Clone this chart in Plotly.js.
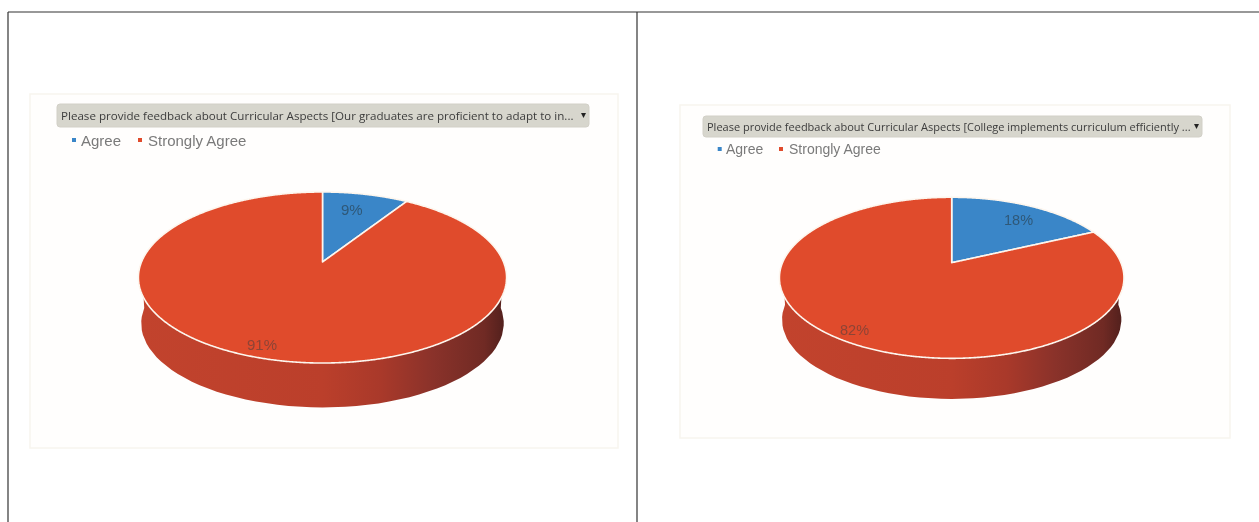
<!DOCTYPE html>
<html><head><meta charset="utf-8">
<script src="https://cdn.plot.ly/plotly-3.0.1.min.js"></script>
<style>html,body{margin:0;padding:0;background:#fff}#p{width:1259px;height:522px;filter:blur(0.45px)}</style>
</head><body><div id="p"></div>
<script>
const categories = ['Agree', 'Strongly Agree'];
const valuesLeft = [9, 91];
const valuesRight = [18, 82];
const labelLeft = 'Please provide feedback about Curricular Aspects [Our graduates are proficient to adapt to in...';
const labelRight = 'Please provide feedback about Curricular Aspects [College implements curriculum efficiently ...';
const colors = ['#3a86c8', '#e04b2c'];

// perspective of each tilted disc, in page pixels
const discs = [
  {apexX:322.5, apexY:262, A:181, a:82.7, b:0.1813, depth:44.5, cardBox:[30,94,618,448], drop:[57,104,589,127], legendY:140,
   legendX:[74,140], legendTextX:[78.5,145.5], pctPos:[[352,209],[262,344]], dropSize:11.6, legendSize:15, pctSize:15},
  {apexX:951.7, apexY:262.7, A:169.2, a:77.7, b:0.1876, depth:40.5, cardBox:[680,105,1230,438], drop:[703,116,1202,137], legendY:149,
   legendX:[719.7,781], legendTextX:[724,786.5], pctPos:[[1018,220],[854,330]], dropSize:11, legendSize:14, pctSize:14.5}
];
const drops = [labelLeft, labelRight];
const vals = [valuesLeft, valuesRight];

function project(d,u,v){const w=1+d.b*v;return [d.apexX+d.A*u/w, d.apexY-d.a*v/w];}

function wallTrace(d){
  const xs=[],ys=[];
  const top=[],low=[];
  for(let t=0;t<=180;t+=3){
    const phi=t*Math.PI/180;
    const p=project(d,Math.cos(phi),-Math.sin(phi));
    top.push(p);
    const cy=d.apexY+(d.a*d.b/(1-d.b*d.b));
    const s=0.985;
    low.push([d.apexX+(p[0]-d.apexX)*s, cy+(p[1]-cy)*s+d.depth+(1-s)*85]);
  }
  xs.push(top[0][0]); ys.push(top[0][1]);
  low.forEach(p=>{xs.push(p[0]);ys.push(p[1]);});
  for(let i=top.length-1;i>=0;i--){xs.push(top[i][0]);ys.push(top[i][1]);}
  return {type:'scatter',mode:'lines',x:xs,y:ys,xaxis:'x',yaxis:'y',fill:'toself',
    line:{width:0,color:'rgba(0,0,0,0)'},hoverinfo:'skip',showlegend:false,
    fillgradient:{type:'horizontal',colorscale:[[0,'#c2432d'],[0.5,'#bb3f2b'],[0.66,'#a9392a'],[0.8,'#8a322a'],[0.94,'#702a24'],[1,'#4f1f1c']]}};
}

const traces=[];
discs.forEach(d=>traces.push(wallTrace(d)));
discs.forEach(d=>{
  traces.push({type:'scatter',mode:'markers',x:d.legendX,y:[d.legendY,d.legendY],xaxis:'x',yaxis:'y',
    marker:{symbol:'square',size:4,color:colors},hoverinfo:'skip',showlegend:false});
});
traces.push({type:'pie',labels:categories,values:valuesLeft,sort:false,direction:'clockwise',rotation:0,
  domain:{x:[0,0.5],y:[0,1]},marker:{colors:colors,line:{color:'#fdf6ee',width:1.6}},textinfo:'none',hoverinfo:'none',showlegend:false});
traces.push({type:'pie',labels:categories,values:valuesRight,sort:false,direction:'clockwise',rotation:0,
  domain:{x:[0.5,1],y:[0,1]},marker:{colors:colors,line:{color:'#fdf6ee',width:1.6}},textinfo:'none',hoverinfo:'none',showlegend:false});

const shapes=[
  {type:'line',x0:8,y0:12,x1:1259,y1:12,line:{color:'#333',width:1.2}},
  {type:'line',x0:8,y0:12,x1:8,y1:522,line:{color:'#333',width:1.2}},
  {type:'line',x0:637,y0:12,x1:637,y1:522,line:{color:'#333',width:1.2}}
];
function roundedBox(b,r){
  return `M${b[0]+r},${b[1]}L${b[2]-r},${b[1]}Q${b[2]},${b[1]} ${b[2]},${b[1]+r}L${b[2]},${b[3]-r}Q${b[2]},${b[3]} ${b[2]-r},${b[3]}L${b[0]+r},${b[3]}Q${b[0]},${b[3]} ${b[0]},${b[3]-r}L${b[0]},${b[1]+r}Q${b[0]},${b[1]} ${b[0]+r},${b[1]}Z`;
}
const annotations=[];
discs.forEach((d,i)=>{
  const c=d.cardBox,b=d.drop;
  shapes.push({type:'rect',layer:'below',x0:c[0],y0:c[1],x1:c[2],y1:c[3],line:{color:'#f8f5ee',width:1.5},fillcolor:'#fffefd'});
  shapes.push({type:'path',layer:'below',path:roundedBox(b,3),line:{color:'#d2d0c7',width:1},fillcolor:'#d7d6cd'});
  annotations.push({x:b[0]+1.5,y:(b[1]+b[3])/2,text:drops[i],xanchor:'left',yanchor:'middle',showarrow:false,
    font:{family:'Open Sans',size:d.dropSize,color:'#3c3c3c'}});
  annotations.push({x:b[2]-6,y:(b[1]+b[3])/2-1,text:'▾',xanchor:'center',yanchor:'middle',showarrow:false,
    font:{family:'DejaVu Sans',size:10,color:'#222'}});
  categories.forEach((cat,j)=>{
    annotations.push({x:d.legendTextX[j],y:d.legendY,text:cat,xanchor:'left',yanchor:'middle',showarrow:false,
      font:{family:'Liberation Sans',size:d.legendSize,color:'#7a7a7a'}});
    annotations.push({x:d.pctPos[j][0],y:d.pctPos[j][1],text:vals[i][j]+'%',xanchor:'center',yanchor:'middle',showarrow:false,
      font:{family:'Liberation Sans',size:d.pctSize,color:j===0?'#2f5878':'#8d4436'}});
  });
});

const layout={width:1259,height:522,margin:{l:0,r:0,t:0,b:0},paper_bgcolor:'#ffffff',plot_bgcolor:'rgba(0,0,0,0)',
  showlegend:false,shapes:shapes,annotations:annotations,
  xaxis:{range:[0,1259],visible:false,fixedrange:true},
  yaxis:{range:[522,0],visible:false,fixedrange:true}};

// tilt each pie the library drew: resample its slice outlines through the perspective
function tilt(gd){
  const groups=gd.querySelectorAll('.pielayer .trace');
  groups.forEach((g,i)=>{
    const cd=gd.calcdata.filter(c=>c[0].trace.type==='pie')[i];
    const cx=cd[0].cx,cy=cd[0].cy,r=cd[0].r,d=discs[i];
    g.querySelectorAll('.slice path.surface').forEach(path=>{
      const L=path.getTotalLength();const pts=[];
      for(let s=0;s<=L;s+=1.5){
        const q=path.getPointAtLength(s);
        pts.push(project(d,(q.x-cx)/r,-(q.y-cy)/r));
      }
      path.setAttribute('d','M'+pts.map(p=>p[0].toFixed(2)+','+p[1].toFixed(2)).join('L')+'Z');
    });
  });
}
Plotly.newPlot('p',traces,layout,{displayModeBar:false,staticPlot:true}).then(tilt);
</script></body></html>
